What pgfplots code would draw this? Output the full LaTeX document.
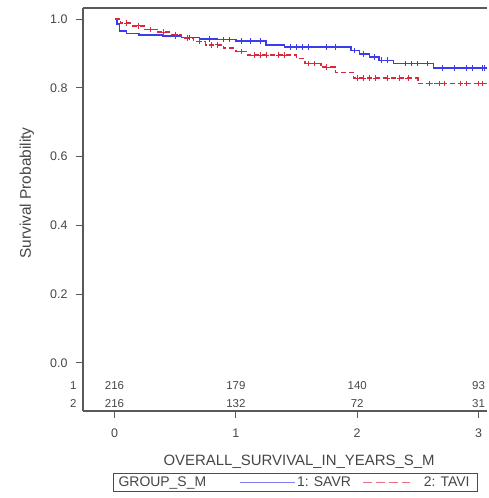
\documentclass[border=0pt]{standalone}
\usepackage{pgfplots}
\pgfplotsset{compat=1.18}
\usepackage{fontspec}
\setmainfont{Liberation Sans}
\definecolor{savr}{RGB}{60,60,235}
\definecolor{tavi}{RGB}{220,40,60}
\definecolor{txt}{RGB}{70,70,70}
\begin{document}
\begin{tikzpicture}
\begin{axis}[
  name=ax,
  scale only axis,
  width=404bp, height=403bp,
  xmin=-0.26, xmax=3.07, ymin=-0.14, ymax=1.032,
  axis x line*=bottom, axis y line*=left,
  axis line style={color=black!65, line width=1.2pt},
  xtick={0,1,2,3}, ytick={0,0.2,0.4,0.6,0.8,1.0},
  tick align=outside, tick style={black!65, line width=1pt},
  major tick length=7bp,
  yticklabel style={xshift=-5bp, /pgf/number format/.cd, fixed, fixed zerofill, precision=1},
  /pgf/number format/assume math mode=true,
  ticklabel style={font=\fontsize{12.5}{14}\selectfont, color=txt},
  xticklabel style={yshift=-7bp},
  xlabel={OVERALL\_SURVIVAL\_IN\_YEARS\_S\_M},
  ylabel={Survival Probability},
  xlabel style={font=\fontsize{15}{17}\selectfont, color=txt, at={(axis description cs:0.535,-0.127)}, anchor=center},
  ylabel style={font=\fontsize{15.5}{17}\selectfont, color=txt, at={(axis description cs:-0.139,0.541)}, anchor=center},
  clip=false,
  legend columns=3,
  legend style={at={(0.525,-0.154)}, anchor=north, font=\fontsize{14}{16}\selectfont,
    text=txt, draw=black!70, line width=1.1pt, inner sep=1.5pt,
    /tikz/every even column/.append style={column sep=4bp}},
  legend cell align=left,
]
\addlegendimage{empty legend}
\addlegendentry{\hspace*{2bp}GROUP\_S\_M\hspace*{27bp}}
\addplot[const plot, color=savr, line width=1.5pt,
  legend image code/.code={\draw[savr!65, line width=1pt] (0bp,0bp) -- (55bp,0bp);}]
  coordinates {
(0,1.0) (0.02,0.985) (0.04,0.965) (0.10,0.958) (0.20,0.953) (0.40,0.950)
(0.55,0.946) (0.70,0.942) (0.85,0.940) (1.00,0.936) (1.25,0.925) (1.40,0.918)
(1.95,0.908) (2.02,0.898) (2.10,0.890) (2.18,0.880) (2.30,0.870) (2.63,0.857) (3.07,0.857)
};
\addlegendentry{1: SAVR\hspace*{6bp}}
\addplot[const plot, color=tavi, line width=1.5pt, dash pattern=on 5bp off 3bp,
  legend image code/.code={\draw[tavi!65, line width=1pt, dash pattern=on 9bp off 4bp] (0bp,0bp) -- (47bp,0bp);}]
  coordinates {
(0,1.0) (0.05,0.988) (0.15,0.980) (0.25,0.970) (0.35,0.962) (0.45,0.955)
(0.55,0.945) (0.65,0.935) (0.75,0.925) (0.90,0.915) (1.00,0.905) (1.10,0.895)
(1.50,0.885) (1.57,0.870) (1.70,0.860) (1.82,0.845) (1.97,0.828) (2.50,0.813) (3.07,0.813)
};
\addlegendentry{\hspace*{11bp}2: TAVI\hspace*{4bp}}
\addplot[only marks, mark=+, mark size=2.8pt, color=savr, line width=1pt, forget plot] coordinates {
(0.5,0.95) (0.62,0.946) (0.78,0.942) (0.9,0.94) (0.95,0.94) (1.05,0.936) (1.12,0.936)
(1.2,0.936) (1.45,0.918) (1.5,0.918) (1.55,0.918) (1.6,0.918) (1.75,0.918) (1.82,0.918)
(1.98,0.908) (2.05,0.898) (2.14,0.89) (2.2,0.88) (2.25,0.88) (2.4,0.87) (2.45,0.87)
(2.5,0.87) (2.58,0.87) (2.7,0.857) (2.8,0.857) (2.9,0.857) (2.95,0.857) (3.03,0.857) (3.05,0.857)
};
\addplot[only marks, mark=+, mark size=2.8pt, color=tavi, line width=1pt, forget plot] coordinates {
(0.1,0.988) (0.2,0.98) (0.3,0.97) (0.4,0.962) (0.5,0.955) (0.6,0.945) (0.7,0.935)
(0.8,0.925) (0.85,0.925) (1.05,0.905) (1.15,0.895) (1.2,0.895) (1.25,0.895) (1.35,0.895)
(1.4,0.895) (1.6,0.87) (1.65,0.87) (1.75,0.86) (2.0,0.828) (2.05,0.828) (2.1,0.828)
(2.15,0.828) (2.25,0.828) (2.35,0.828) (2.42,0.828) (2.6,0.813) (2.68,0.813) (2.72,0.813)
(2.85,0.813) (2.9,0.813) (3.0,0.813) (3.03,0.813)
};
% risk table
\begin{scope}[every node/.style={font=\fontsize{11.5}{13}\selectfont, text=txt}]
\node at (axis cs:0,-0.067) {216};
\node at (axis cs:1,-0.067) {179};
\node at (axis cs:2,-0.067) {140};
\node at (axis cs:3,-0.067) {93};
\node at (axis cs:0,-0.117) {216};
\node at (axis cs:1,-0.117) {132};
\node at (axis cs:2,-0.117) {72};
\node at (axis cs:3,-0.117) {31};
\node[anchor=east] at ([xshift=-3bp]axis cs:-0.26,-0.067) {1};
\node[anchor=east] at ([xshift=-3bp]axis cs:-0.26,-0.117) {2};
\end{scope}
\draw[black!65, line width=1.2pt] (rel axis cs:0,1) -- (rel axis cs:1,1);
\end{axis}
\pgfresetboundingbox
\path ([xshift=-83bp,yshift=-87bp]ax.south west) rectangle ([xshift=2bp,yshift=8bp]ax.north east);
\end{tikzpicture}
\end{document}
